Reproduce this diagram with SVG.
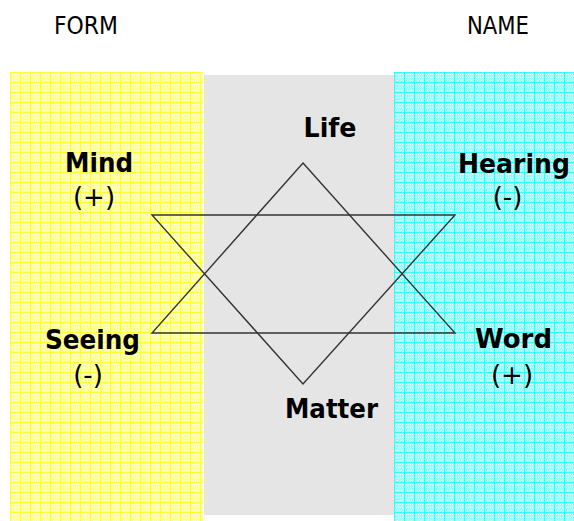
<svg xmlns="http://www.w3.org/2000/svg" width="574" height="521" viewBox="0 0 574 521">
  <defs>
    <pattern id="gridY" width="10" height="10" patternUnits="userSpaceOnUse" x="10" y="72">
      <rect width="10" height="10" fill="#ffff99"/>
      <rect x="2" y="2" width="1" height="1" fill="#ffffff"/>
      <rect x="4" y="2" width="1" height="1" fill="#ffffff"/>
      <rect x="6" y="2" width="1" height="1" fill="#ffffff"/>
      <rect x="8" y="2" width="1" height="1" fill="#ffffff"/>
      <rect x="2" y="5" width="1" height="1" fill="#ffffff"/>
      <rect x="4" y="5" width="1" height="1" fill="#ffffff"/>
      <rect x="6" y="5" width="1" height="1" fill="#ffffff"/>
      <rect x="8" y="5" width="1" height="1" fill="#ffffff"/>
      <rect x="3" y="8" width="1" height="1" fill="#ffffff"/>
      <rect x="7" y="8" width="1" height="1" fill="#ffffff"/>
      <rect x="0" y="0" width="10" height="1" fill="#ffff33"/>
      <rect x="0" y="0" width="1" height="10" fill="#ffff33"/>
    </pattern>
    <pattern id="gridC" width="10" height="10" patternUnits="userSpaceOnUse" x="394" y="72">
      <rect width="10" height="10" fill="#99ffff"/>
      <rect x="2" y="2" width="1" height="1" fill="#ffffff"/>
      <rect x="4" y="2" width="1" height="1" fill="#ffffff"/>
      <rect x="6" y="2" width="1" height="1" fill="#ffffff"/>
      <rect x="8" y="2" width="1" height="1" fill="#ffffff"/>
      <rect x="2" y="5" width="1" height="1" fill="#ffffff"/>
      <rect x="4" y="5" width="1" height="1" fill="#ffffff"/>
      <rect x="6" y="5" width="1" height="1" fill="#ffffff"/>
      <rect x="8" y="5" width="1" height="1" fill="#ffffff"/>
      <rect x="3" y="8" width="1" height="1" fill="#ffffff"/>
      <rect x="7" y="8" width="1" height="1" fill="#ffffff"/>
      <rect x="0" y="0" width="10" height="1" fill="#33ffff"/>
      <rect x="0" y="0" width="1" height="10" fill="#33ffff"/>
    </pattern>
  </defs>
  <style>
    .hdr { font-family: "DejaVu Sans", Verdana, sans-serif; font-size: 24px; fill: #000; text-anchor: middle; }
    .lbl { font-family: "DejaVu Sans", Verdana, sans-serif; font-size: 26px; font-weight: bold; fill: #000; text-anchor: middle; }
    .sgn { font-family: "DejaVu Sans", Verdana, sans-serif; font-size: 26px; fill: #000; text-anchor: middle; }
    .tri { fill: none; stroke: #333333; stroke-width: 1.4; }
  </style>

  <g id="background">
    <rect x="10" y="72" width="193" height="449" fill="url(#gridY)"/>
    <rect x="204" y="75" width="190" height="440" fill="#e5e5e5"/>
    <rect x="394" y="72" width="180" height="449" fill="url(#gridC)"/>
  </g>

  <g id="connectors">
    <polygon class="tri" points="303,163 455,333 152,333"/>
    <polygon class="tri" points="152,215 455,215 303,384"/>
  </g>

  <g id="form-header"><text class="hdr" x="86" y="34" textLength="64" lengthAdjust="spacingAndGlyphs">FORM</text></g>
  <g id="name-header"><text class="hdr" x="498" y="34" textLength="62" lengthAdjust="spacingAndGlyphs">NAME</text></g>

  <g id="life"><text class="lbl" x="330" y="137" textLength="53" lengthAdjust="spacingAndGlyphs">Life</text></g>
  <g id="mind">
    <text class="lbl" x="99" y="172" textLength="68" lengthAdjust="spacingAndGlyphs">Mind</text>
    <text class="sgn" x="94" y="206">(+)</text>
  </g>
  <g id="hearing">
    <text class="lbl" x="514" y="173" textLength="112" lengthAdjust="spacingAndGlyphs">Hearing</text>
    <text class="sgn" x="507.5" y="206">(-)</text>
  </g>
  <g id="seeing">
    <text class="lbl" x="92.5" y="349" textLength="95" lengthAdjust="spacingAndGlyphs">Seeing</text>
    <text class="sgn" x="88" y="384">(-)</text>
  </g>
  <g id="word">
    <text class="lbl" x="513.5" y="348" textLength="77" lengthAdjust="spacingAndGlyphs">Word</text>
    <text class="sgn" x="512" y="384">(+)</text>
  </g>
  <g id="matter"><text class="lbl" x="331.5" y="418" textLength="93" lengthAdjust="spacingAndGlyphs">Matter</text></g>
</svg>
